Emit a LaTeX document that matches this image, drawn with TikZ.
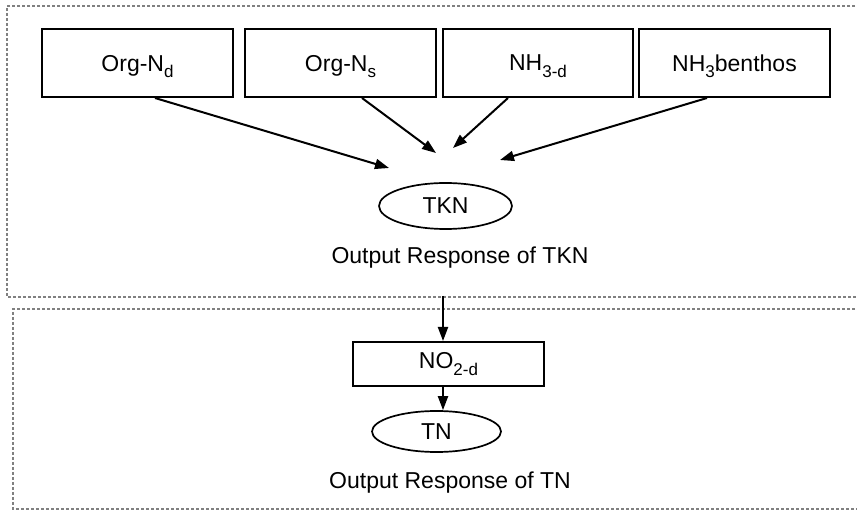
\documentclass[tikz,border=0pt]{standalone}
\usepackage{fontspec}
\setmainfont{Liberation Sans}
\usetikzlibrary{arrows.meta,shapes.geometric}
\newcommand{\subtx}[1]{\raisebox{-0.28em}{\fontsize{17pt}{19pt}\selectfont #1}}
\begin{document}
\begin{tikzpicture}[x=1pt,y=-1pt,
  every node/.style={font=\fontsize{23pt}{27pt}\selectfont, inner sep=0pt},
  frame/.style={draw=black!50, line width=1.2pt, dash pattern=on 3pt off 2pt},
  srcbox/.style={draw, line width=2pt, minimum height=68pt, text depth=0pt},
  oval/.style={draw, ellipse, line width=1.7pt},
  arr/.style={line width=2pt, -{Triangle[length=14pt,width=10pt]}}
]
\useasboundingbox (0,0) rectangle (857,510);
\fill[white] (0,0) rectangle (857,510);
% frames
\draw[frame] (880,6) -- (7,6) -- (7,297) -- (880,297);
\draw[frame] (880,309) -- (13,309) -- (13,509) -- (880,509);
\coordinate (topbot) at (443,296);
% source boxes
\node[srcbox, minimum width=191pt] (ond) at (137.5,63) {Org-N\subtx{d}};
\node[srcbox, minimum width=191pt] (ons) at (340.5,63) {Org-N\subtx{s}};
\node[srcbox, minimum width=190pt] (nh3d) at (538,63) {NH\subtx{3-d}};
\node[srcbox, minimum width=191pt] (nh3b) at (734.5,63) {NH\subtx{3}benthos};
% arrow targets
\coordinate (t1) at (389,168);
\coordinate (t2) at (436,153);
\coordinate (t3) at (453,148);
\coordinate (t4) at (500,160);
\draw[arr] (ond.south -| 155,0) -- (t1);
\draw[arr] (ons.south -| 362,0) -- (t2);
\draw[arr] (nh3d.south -| 508,0) -- (t3);
\draw[arr] (nh3b.south -| 707,0) -- (t4);
% TKN
\node[oval, minimum width=133pt, minimum height=46pt] (tkn) at (445.5,206) {TKN};
\node (lab1) at (460,258) {Output Response of TKN};
% NO2
\node[draw, line width=2pt, minimum width=191pt, minimum height=44pt] (no2) at (448.5,364) {NO\subtx{2-d}};
\draw[arr] (topbot) -- (topbot |- no2.north);
\node[oval, minimum width=129pt, minimum height=41pt] (tn) at (436.5,431.5) {TN};
\draw[arr] (no2.south -| topbot) -- (tn.north -| topbot);
\node (lab2) at (450,483) {Output Response of TN};
\end{tikzpicture}
\end{document}
